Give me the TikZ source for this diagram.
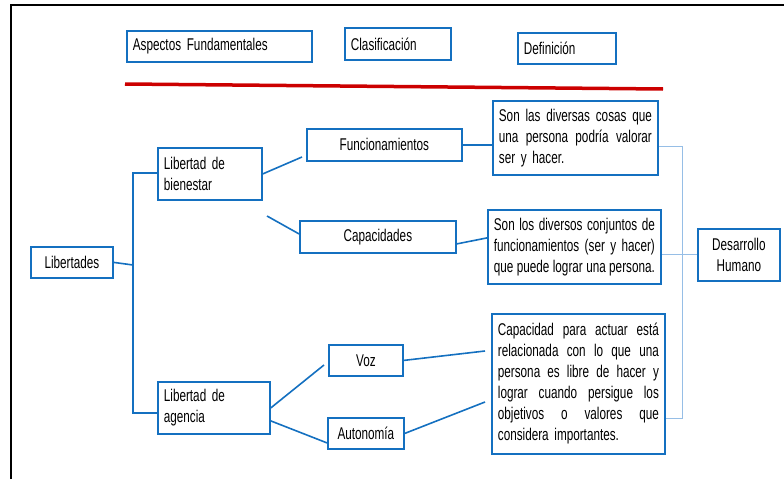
\documentclass[tikz,border=0pt]{standalone}
\usepackage{fontspec}
\setmainfont{Liberation Sans}[FakeStretch=0.69]
\definecolor{bblue}{RGB}{20,112,192}
\definecolor{lblue}{RGB}{150,190,230}
\definecolor{rline}{RGB}{204,0,0}
\newcommand\fs{\fontsize{17}{21}\selectfont}
\newcommand\jl[2]{\leavevmode\hbox to #1{\spaceskip=0.15em plus 1fil\relax #2}}
\tikzset{
  bx/.style={draw=bblue, line width=1.8pt, inner xsep=6pt, inner ysep=0pt, anchor=north west, font=\fs},
  ln/.style={draw=bblue, line width=1.6pt},
  lb/.style={draw=lblue, line width=1pt},
}
\begin{document}
\begin{tikzpicture}[x=1pt,y=-1pt]
\useasboundingbox (0,0) rectangle (784,479);
% frame
\draw[line width=1.3pt] (11,479) -- (11,5) -- (784,5);
% header
\node[bx, minimum width=185pt, minimum height=31pt, text width=173pt, align=left] (asp) at (126,30) {Aspectos Fundamentales};
\node[bx, minimum width=106pt, minimum height=32pt, text width=94pt, align=left] (cla) at (344,27) {Clasificación};
\node[bx, minimum width=98pt, minimum height=31pt, text width=86pt, align=left] (dfn) at (517,32) {Definición};
\coordinate (r1) at (125,84);
\coordinate (r2) at (663,89);
\draw[draw=rline, line width=3.5pt] (r1) -- (r2);
% tree
\node[bx, minimum width=82pt, minimum height=31pt, text width=70pt, align=center] (lib) at (30,246) {Libertades};
\node[bx, minimum width=104pt, minimum height=52pt, text width=92pt, align=left] (bien) at (157,147) {Libertad de\\bienestar};
\node[bx, minimum width=112pt, minimum height=52pt, text width=100pt, align=left] (agen) at (157,381) {Libertad de\\agencia};
\node[bx, minimum width=155pt, minimum height=32pt, text width=143pt, align=center] (func) at (306,128) {Funcionamientos};
\node[bx, minimum width=156pt, minimum height=32pt, text width=144pt, align=center] (cap) at (299,220) {Capacidades};
\node[bx, minimum width=74pt, minimum height=31pt, text width=62pt, align=center] (voz) at (328,344) {Voz};
\node[bx, minimum width=76pt, minimum height=31pt, text width=64pt, align=center] (aut) at (327,417) {Autonomía};
\node[bx, minimum width=165pt, minimum height=74pt, text width=153pt, align=left] (d1) at (492,100) {%
\jl{153pt}{Son las diversas cosas que}\\
\jl{153pt}{una persona podría valorar}\\
\mbox{ser y hacer.}};
\node[bx, minimum width=173pt, minimum height=74pt, text width=161pt, align=left] (d2) at (487,209) {%
\jl{161pt}{Son los diversos conjuntos de}\\
\jl{161pt}{funcionamientos (ser y hacer)}\\
\jl{161pt}{que puede lograr una persona.}};
\node[bx, minimum width=173pt, minimum height=140pt, text width=161pt, align=left] (d3) at (491,313) {%
\jl{161pt}{Capacidad para actuar está}\\
\jl{161pt}{relacionada con lo que una}\\
\jl{161pt}{persona es libre de hacer y}\\
\jl{161pt}{lograr cuando persigue los}\\
\jl{161pt}{objetivos o valores que}\\
\mbox{considera importantes.}};
\node[bx, minimum width=82pt, minimum height=52pt, text width=70pt, align=center] (des) at (697,228) {Desarrollo\\Humano};
% connectors
\coordinate (bt) at (133,173);
\coordinate (bb) at (133,413);
\coordinate (bm) at (133,265);
\draw[ln] (bien.west |- bt) -- (bt) -- (bb) -- (agen.west |- bb);
\draw[ln] (lib.east) -- (bm);
\coordinate (f1) at (302,157);
\draw[ln] (bien.east) -- (f1);
\coordinate (c0) at (267,216);
\draw[ln] (c0) -- ([yshift=3pt]cap.west);
\draw[ln] (func.east) -- (func.east -| d1.west);
\draw[ln] ([yshift=-7pt]cap.east) -- ([yshift=9pt]d2.west);
\coordinate (v0) at (324,365);
\draw[ln] (agen.east) -- (v0);
\draw[ln] ([yshift=-13pt]agen.east) -- ([yshift=-9.5pt]aut.west);
\coordinate (d3a) at (485,351);
\coordinate (d3b) at (485,402);
\draw[ln] (voz.east) -- (d3a);
\draw[ln] (aut.east) -- (d3b);
% light blue
\coordinate (v1) at (682,146);
\coordinate (v2) at (682,418);
\draw[lb] (v1 -| d1.east) -- (v1) -- (v2) -- (v2 -| d3.east);
\draw[lb] (des.west) -- (des.west -| d2.east);
\end{tikzpicture}
\end{document}
